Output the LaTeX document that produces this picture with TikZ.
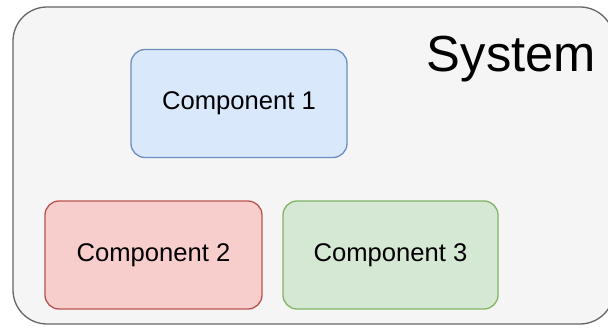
\documentclass[tikz,border=0pt]{standalone}
\usepackage{fontspec}
\setmainfont{Liberation Sans}
\definecolor{sysfill}{HTML}{F5F5F5}
\definecolor{sysline}{HTML}{666666}
\definecolor{bluefill}{HTML}{DAE8FC}
\definecolor{blueline}{HTML}{6C8EBF}
\definecolor{redfill}{HTML}{F8CECC}
\definecolor{redline}{HTML}{B85450}
\definecolor{greenfill}{HTML}{D5E8D4}
\definecolor{greenline}{HTML}{82B366}
\tikzset{
  comp/.style={draw, line width=1.3pt, rounded corners=14pt, inner sep=0pt,
    minimum height=108pt, font=\fontsize{25.6}{30}\selectfont},
  container/.style={draw=sysline, fill=sysfill, line width=1.3pt,
    rounded corners=34pt, inner sep=0pt}
}
\begin{document}
\begin{tikzpicture}[x=1pt, y=-1pt]
  \useasboundingbox (0,0) rectangle (608,331);
  \fill[white] (0,0) rectangle (608,331);
  \clip (0,0) rectangle (608,331);
  % outer system container (runs slightly past the right edge)
  \node[container, minimum width=601pt, minimum height=317pt] (box) at (313.5,165.5) {};
  \node[anchor=base, font=\fontsize{50.7}{60}\selectfont] (sys) at (511.5,72) {System};
  % components
  \node[comp, draw=blueline, fill=bluefill, minimum width=216pt] (c1) at (239,103.5) {Component 1};
  \node[comp, draw=redline, fill=redfill, minimum width=217pt] (c2) at (153.5,255) {Component 2};
  \node[comp, draw=greenline, fill=greenfill, minimum width=215pt] (c3) at (390.5,255) {Component 3};
\end{tikzpicture}
\end{document}
